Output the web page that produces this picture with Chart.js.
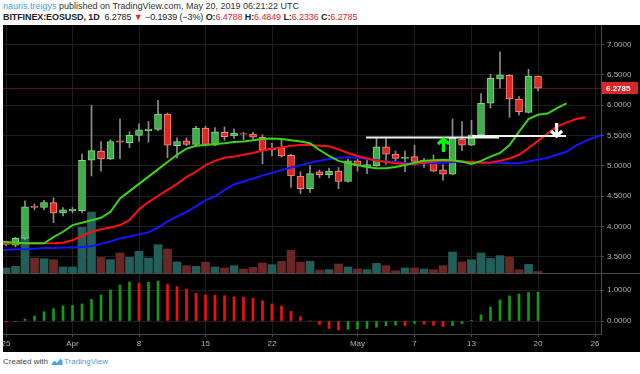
<!DOCTYPE html>
<html><head><meta charset="utf-8">
<script src="https://cdn.jsdelivr.net/npm/chart.js@4.4.1/dist/chart.umd.min.js"></script>
<style>
html,body{margin:0;padding:0;background:#fff;width:640px;height:374px;overflow:hidden;font-family:'Liberation Sans',Arial,sans-serif;}
.hdr{position:absolute;left:3px;white-space:nowrap;font-size:9px;color:#333;}
#h1{top:1px;letter-spacing:0px;}
#h2{top:12px;color:#222;letter-spacing:-0.1px;}
#h2 b{font-weight:bold;}
.blue{color:#3fa3e0;}
.red{color:#e0282c;}
#panel{position:absolute;left:3px;top:25px;width:637px;height:327px;background:#000;}
#main{position:absolute;left:0;top:0;}
#osc{position:absolute;left:0;top:249px;}
#sep{position:absolute;left:0;top:248px;width:637px;height:1px;background:#4a4a4a;}
#foot{position:absolute;left:3px;top:357px;font-size:8px;color:#444;white-space:nowrap;}
#foot svg{vertical-align:-2px;margin:0 1px 0 2px;}
#foot .tv{color:#46a6e2;}
</style></head>
<body>
<div class="hdr" id="h1"><span class="blue">nauris.treigys</span> published on TradingView.com, May 20, 2019 06:21:22 UTC</div>
<div class="hdr" id="h2"><b>BITFINEX:EOSUSD, 1D</b>&nbsp; 6.2785 <span class="red">▼</span> −0.1939 (−3%) <b>O:</b><span class="red">6.4788</span> <b>H:</b><span class="red">6.4849</span> <b>L:</b><span class="red">6.2336</span> <b>C:</b><span class="red">6.2785</span></div>
<div id="panel">
<canvas id="main" width="637" height="248"></canvas>
<div id="sep"></div>
<canvas id="osc" width="637" height="78"></canvas>
</div>
<div id="foot">Created with<svg width="13" height="9" viewBox="0 0 13 9"><path d="M1 8 L4.5 3.5 L7 6 L10.5 1.5 L12.5 4 L12.5 8 Z" fill="#46a6e2"/></svg><span class="tv">TradingView</span></div>
<script>
// ---- data (day index 0 = Mar 25, 2019) ----
const tickDays   = [0, 7, 14, 21, 28, 37, 43, 49, 56, 62];
const tickLabels = ['25', 'Apr', '8', '15', '22', 'May', '7', '13', '20', '26'];
const priceTicks = [3.5, 4.0, 4.5, 5.0, 5.5, 6.0, 6.5, 7.0];
const aoTicks = [0, 1];

const open  = [3.70,3.69,3.80,4.33,4.31,4.39,4.22,4.26,4.26,5.09,5.24,5.11,5.41,5.38,5.50,5.58,5.60,5.85,5.33,5.41,5.35,5.62,5.34,5.55,5.49,5.53,5.52,5.47,5.26,5.29,5.17,4.83,4.62,4.90,4.85,4.91,4.74,5.08,4.98,5.00,5.31,5.19,5.12,5.15,5.07,5.08,4.93,4.86,5.44,5.34,5.51,6.03,6.43,6.49,6.10,5.88,6.4788];
const high  = [3.74,3.82,4.42,4.37,4.43,4.47,4.31,4.31,5.19,6.00,5.40,5.43,5.77,5.56,5.69,5.73,6.08,5.87,5.46,5.46,5.65,5.65,5.63,5.64,5.61,5.55,5.55,5.51,5.37,5.44,5.19,4.90,5.00,4.93,4.96,4.97,5.11,5.11,5.09,5.45,5.45,5.24,5.24,5.34,5.12,5.18,5.02,5.77,5.73,5.75,6.19,6.51,6.88,6.50,6.14,6.59,6.4849];
const low   = [3.68,3.66,3.78,4.27,4.27,4.06,4.17,4.22,4.22,4.83,4.91,5.10,5.11,5.30,5.40,5.39,5.58,5.13,5.13,5.33,5.31,5.33,5.33,5.42,5.45,5.43,5.44,5.03,5.16,5.14,4.64,4.54,4.56,4.80,4.80,4.62,4.73,4.91,4.87,4.99,5.02,5.05,4.90,5.01,4.97,4.90,4.76,4.85,5.25,5.33,5.50,5.95,6.28,5.80,5.84,5.87,6.2336];
const close = [3.72,3.80,4.32,4.31,4.39,4.22,4.27,4.28,5.09,5.25,5.11,5.40,5.39,5.50,5.59,5.60,5.85,5.34,5.40,5.35,5.62,5.35,5.56,5.48,5.54,5.52,5.47,5.26,5.29,5.16,4.83,4.62,4.87,4.85,4.91,4.74,5.08,5.00,5.02,5.31,5.19,5.12,5.14,5.07,5.09,4.91,4.86,5.45,5.34,5.51,6.03,6.44,6.50,6.10,5.89,6.48,6.2785];
const volumeM = [0.50,0.66,3.66,1.50,1.43,1.33,0.60,0.60,4.56,6.10,1.56,1.33,2.00,1.56,2.16,1.50,2.83,2.40,1.10,0.73,0.66,1.08,0.60,0.50,0.73,0.40,0.56,1.00,0.83,1.16,2.26,1.06,1.16,0.30,0.33,0.90,0.60,0.40,0.33,0.96,0.73,0.23,0.50,0.50,0.40,0.33,0.73,2.10,1.10,1.33,2.00,1.46,1.73,1.60,0.33,0.86,0.16];

// Alligator lines (already displaced forward), first value is day -1
const lipsStart = -1;
const lips  = [3.75,3.74,3.73,3.72,3.72,3.72,3.82,3.91,4.02,4.06,4.10,4.14,4.24,4.46,4.58,4.70,4.82,4.94,5.06,5.18,5.28,5.33,5.34,5.36,5.37,5.39,5.40,5.42,5.44,5.45,5.44,5.42,5.40,5.37,5.26,5.16,5.08,5.04,5.01,4.98,4.96,4.96,4.98,5.01,5.05,5.08,5.09,5.10,5.09,5.07,5.03,5.08,5.15,5.21,5.34,5.56,5.77,5.84,5.86,5.95,6.03];
const teethStart = -1;
const teeth = [3.72,3.72,3.72,3.72,3.72,3.72,3.72,3.73,3.77,3.84,3.91,3.95,3.98,4.02,4.10,4.28,4.40,4.50,4.60,4.70,4.81,4.90,5.01,5.08,5.13,5.15,5.18,5.21,5.25,5.28,5.30,5.33,5.34,5.34,5.33,5.32,5.27,5.21,5.16,5.12,5.08,5.06,5.04,5.03,5.03,5.05,5.07,5.08,5.08,5.07,5.06,5.05,5.05,5.08,5.12,5.18,5.29,5.41,5.53,5.65,5.71,5.77,5.80];
const jawStart = -1;
const jaw   = [3.61,3.61,3.62,3.62,3.63,3.64,3.64,3.65,3.65,3.66,3.67,3.71,3.75,3.80,3.83,3.87,3.90,3.98,4.08,4.16,4.24,4.33,4.43,4.49,4.60,4.69,4.74,4.79,4.84,4.88,4.93,4.97,5.01,5.05,5.08,5.11,5.13,5.14,5.13,5.11,5.09,5.07,5.06,5.04,5.04,5.04,5.04,5.05,5.06,5.06,5.06,5.06,5.05,5.05,5.04,5.04,5.07,5.10,5.13,5.18,5.23,5.33,5.41,5.47,5.52];

// Awesome Oscillator
const ao = [-0.03,-0.02,0.06,0.16,0.30,0.40,0.49,0.50,0.55,0.70,0.84,1.00,1.16,1.26,1.22,1.25,1.29,1.18,1.11,1.03,0.89,0.84,0.83,0.82,0.78,0.77,0.73,0.65,0.55,0.48,0.31,0.14,0.00,-0.11,-0.24,-0.29,-0.27,-0.26,-0.24,-0.20,-0.15,-0.13,-0.15,-0.08,-0.10,-0.14,-0.18,-0.15,-0.08,0.01,0.20,0.45,0.68,0.81,0.87,0.92,0.93];

const lastPrice = 6.2785;
const levelLines = [{from: 37.9, to: 51.9, price: 5.467}, {from: 49.05, to: 58.95, price: 5.49}];
const arrows = [{day: 46.05, tip: 5.457, tail: 5.226, color: '#00ff00'}, {day: 57.95, tip: 5.474, tail: 5.705, color: '#ffffff'}];

// ---- styling ----
const UP = '#3cae47', UP_B = '#86d886', DN = '#dc2a22', DN_B = '#f3907f';
const VOL_UP = '#235f5a', VOL_DN = '#6c2626';
const GRID = '#1e1e1e', AXIS = '#4a4a4a', TXT = '#b0b0b0';
const FONT = {family: "'Liberation Sans', Arial, sans-serif", size: 8};
const X_MIN = -0.316, X_MAX = 62.63;

const days = open.map((_, i) => i);
const isUp = days.map(i => close[i] >= open[i]);
const series = (arr, start) => arr.map((v, k) => ({x: start + k, y: v}));

function fixAxis(w, h) {
  return function(scale) {
    if (w !== undefined) scale.width = w;
    if (h !== undefined) scale.height = h;
    scale.paddingTop = 0; scale.paddingBottom = 0; scale.paddingLeft = 0; scale.paddingRight = 0;
  };
}

const xCommon = (showLabels) => ({
  type: 'linear', min: X_MIN, max: X_MAX, offset: false,
  display: true,
  grid: {color: GRID, offset: false, drawTicks: showLabels, tickLength: 3, tickColor: AXIS},
  border: {display: showLabels, color: AXIS},
  ticks: {display: showLabels, autoSkip: false, maxRotation: 0, color: TXT, font: FONT, padding: 2,
          callback: (v) => { const k = tickDays.indexOf(v); return k >= 0 ? tickLabels[k] : ''; }},
  afterBuildTicks: (s) => { s.ticks = tickDays.map(v => ({value: v})); },
  afterFit: fixAxis(undefined, showLabels ? 18 : 0)
});

const mainPlugin = {
  id: 'mainExtras',
  beforeDatasetsDraw(chart) {
    const {ctx, chartArea, scales} = chart;
    const y = scales.y.getPixelForValue(lastPrice);
    ctx.save();
    ctx.strokeStyle = '#5a1414'; ctx.lineWidth = 1;
    ctx.beginPath(); ctx.moveTo(chartArea.left, Math.round(y) + 0.5); ctx.lineTo(chartArea.right, Math.round(y) + 0.5); ctx.stroke();
    ctx.restore();
  },
  afterDatasetsDraw(chart) {
    const {ctx, scales} = chart;
    const xs = scales.x, ys = scales.y;
    ctx.save();
    ctx.strokeStyle = '#f2f2f2'; ctx.lineWidth = 2;
    levelLines.forEach(l => {
      const y = ys.getPixelForValue(l.price);
      ctx.beginPath(); ctx.moveTo(xs.getPixelForValue(l.from), y); ctx.lineTo(xs.getPixelForValue(l.to), y); ctx.stroke();
    });
    arrows.forEach(a => {
      const x = xs.getPixelForValue(a.day);
      const yt = ys.getPixelForValue(a.tip), yb = ys.getPixelForValue(a.tail);
      const dir = yb > yt ? 1 : -1;
      ctx.strokeStyle = a.color; ctx.lineWidth = 3.2; ctx.lineJoin = 'miter'; ctx.lineCap = 'butt';
      ctx.beginPath(); ctx.moveTo(x, yt + dir * 1.5); ctx.lineTo(x, yb); ctx.stroke();
      ctx.beginPath(); ctx.moveTo(x - 5.5, yt + dir * 6); ctx.lineTo(x, yt + dir * 1); ctx.lineTo(x + 5.5, yt + dir * 6); ctx.stroke();
    });
    ctx.restore();
  },
  afterDraw(chart) {
    const {ctx, chartArea, scales} = chart;
    const y = Math.round(scales.y.getPixelForValue(lastPrice));
    ctx.save();
    ctx.fillStyle = '#d9262b';
    ctx.fillRect(chartArea.right + 1, y - 6, 36, 12);
    ctx.fillStyle = '#ffffff'; ctx.font = "bold 8px 'Liberation Sans', Arial, sans-serif";
    ctx.textBaseline = 'middle'; ctx.textAlign = 'left';
    ctx.fillText(lastPrice.toFixed(4), chartArea.right + 5, y + 0.5);
    ctx.restore();
  }
};

new Chart(document.getElementById('main'), {
  type: 'bar',
  data: {
    datasets: [
      {type: 'line', label: 'Lips', data: series(lips, lipsStart), borderColor: '#3ed317', borderWidth: 2, pointRadius: 0, tension: 0, order: 1, clip: 0, yAxisID: 'y'},
      {type: 'line', label: 'Teeth', data: series(teeth, teethStart), borderColor: '#ff1010', borderWidth: 2, pointRadius: 0, tension: 0, order: 2, clip: 0, yAxisID: 'y'},
      {type: 'line', label: 'Jaw', data: series(jaw, jawStart), borderColor: '#1414ff', borderWidth: 2, pointRadius: 0, tension: 0, order: 3, clip: 0, yAxisID: 'y'},
      {label: 'Body', data: days.map(i => ({x: i, y: [open[i], close[i]]})), backgroundColor: days.map(i => isUp[i] ? UP : DN),
       borderColor: days.map(i => isUp[i] ? UP_B : DN_B), borderWidth: 1, borderSkipped: false, barThickness: 7, grouped: false, order: 4, yAxisID: 'y'},
      {label: 'Wick', data: days.map(i => ({x: i, y: [low[i], high[i]]})), backgroundColor: '#8e8e8e', barThickness: 1, grouped: false, order: 5, yAxisID: 'y'},
      {label: 'Volume', data: days.map(i => ({x: i, y: volumeM[i]})), backgroundColor: days.map(i => isUp[i] ? VOL_UP : VOL_DN), barThickness: 8, grouped: false, order: 6, yAxisID: 'yv'}
    ]
  },
  options: {
    responsive: false, animation: false, devicePixelRatio: 1,
    layout: {padding: 0},
    plugins: {legend: {display: false}, tooltip: {enabled: false}},
    scales: {
      x: xCommon(false),
      y: {position: 'right', min: 3.2294, max: 7.3218,
          grid: {color: GRID, drawTicks: true, tickLength: 3, tickColor: AXIS},
          border: {display: true, color: AXIS},
          ticks: {color: TXT, font: FONT, padding: 3, callback: v => v.toFixed(4)},
          afterBuildTicks: (s) => { s.ticks = priceTicks.map(v => ({value: v})); },
          afterFit: fixAxis(39)},
      yv: {display: false, min: 0, max: 24.8}
    }
  },
  plugins: [mainPlugin]
});

new Chart(document.getElementById('osc'), {
  type: 'bar',
  data: {
    datasets: [
      {label: 'AO', data: days.map(i => ({x: i, y: ao[i]})),
       backgroundColor: days.map(i => (i > 0 && ao[i] >= ao[i - 1]) ? '#139b13' : '#f01010'),
       barThickness: 2, grouped: false}
    ]
  },
  options: {
    responsive: false, animation: false, devicePixelRatio: 1,
    layout: {padding: 0},
    plugins: {legend: {display: false}, tooltip: {enabled: false}},
    scales: {
      x: xCommon(true),
      y: {position: 'right', min: -0.419, max: 1.516,
          grid: {color: GRID, drawTicks: true, tickLength: 3, tickColor: AXIS},
          border: {display: true, color: AXIS},
          ticks: {color: TXT, font: FONT, padding: 3, callback: v => v.toFixed(4)},
          afterBuildTicks: (s) => { s.ticks = aoTicks.map(v => ({value: v})); },
          afterFit: fixAxis(39)}
    }
  }
});
</script>
</body></html>
